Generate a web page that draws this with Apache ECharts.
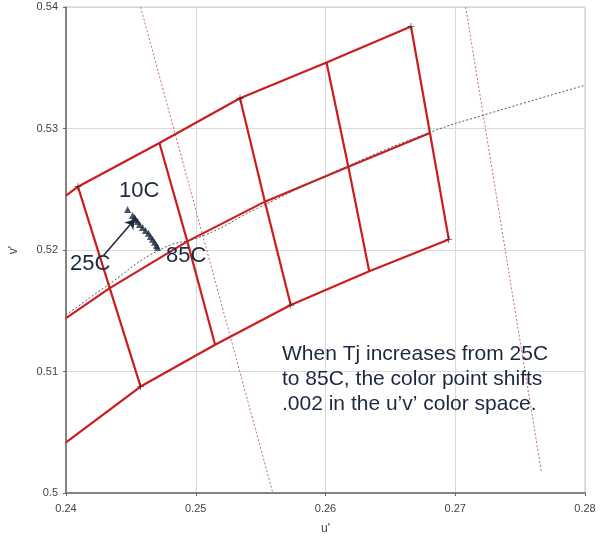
<!DOCTYPE html>
<html>
<head>
<meta charset="utf-8">
<script src="https://cdn.jsdelivr.net/npm/echarts@6/dist/echarts.min.js"></script>
<style>
  html, body { margin: 0; padding: 0; background: #fff; }
  #box { width: 600px; height: 540px; }
</style>
</head>
<body>
<div id="box"></div>
<script>
// red mesh: three rows of vertices (u', v'), first point sits on the left edge
const topRow = [[0.24, 0.52447], [0.24092, 0.52521], [0.24720, 0.52881], [0.25341, 0.53249], [0.26008, 0.53544], [0.26659, 0.53839]]
const midRow = [[0.24, 0.51440], [0.24337, 0.51686], [0.24935, 0.52071], [0.25533, 0.52398], [0.26176, 0.52685], [0.26805, 0.52963]]
const botRow = [[0.24, 0.50417], [0.24575, 0.50876], [0.25149, 0.51220], [0.25732, 0.51547], [0.26337, 0.51825], [0.26950, 0.52087]]
// corners marked with +
const crossPts = [[0.24092, 0.52521], [0.25341, 0.53249], [0.26659, 0.53839], [0.24575, 0.50876], [0.25732, 0.51547], [0.26950, 0.52087]]
// black dotted locus
const locus = [[0.24, 0.51465], [0.24322, 0.51711], [0.24728, 0.52005], [0.25065, 0.52120], [0.25471, 0.52341], [0.26176, 0.52693], [0.26812, 0.52971], [0.27218, 0.53110], [0.28, 0.53356]]
// thin red dotted lines
const iso1 = [[0.24575, 0.54], [0.25594, 0.5]]
const iso2 = [[0.27080, 0.54], [0.27663, 0.5018]]
// measured color points 10C .. 85C
const colorPts = [[0.24475, 0.52333], [0.24513, 0.52284], [0.24529, 0.52267], [0.24536, 0.52251], [0.24552, 0.52235], [0.24567, 0.52210], [0.24590, 0.52186], [0.24613, 0.52161], [0.24636, 0.52137], [0.24651, 0.52112], [0.24667, 0.52088], [0.24682, 0.52063], [0.24697, 0.52039], [0.24705, 0.52022]]
const arrow = [[0.24291, 0.51956], [0.24529, 0.52251]]
const xTicks = ['0.24', '0.25', '0.26', '0.27', '0.28']

const red = '#cc1c1c'
const navy = '#1c2740'

const series = []
series.push({ type: 'line', data: iso1, symbol: 'none', z: 1, lineStyle: { color: '#c26a78', width: 1, type: [2, 2] } })
series.push({ type: 'line', data: iso2, symbol: 'none', z: 1, lineStyle: { color: '#c26a78', width: 1, type: [2, 2] } })
;[topRow, midRow, botRow].forEach(function (row) {
  series.push({ type: 'line', data: row, symbol: 'none', z: 2, lineStyle: { color: red, width: 2.2 } })
})
for (let i = 1; i < topRow.length; i++) {
  series.push({ type: 'line', data: [topRow[i], midRow[i], botRow[i]], symbol: 'none', z: 2, lineStyle: { color: red, width: 2.2 } })
}
series.push({ type: 'line', data: locus, symbol: 'none', smooth: true, z: 3, lineStyle: { color: '#555', width: 1, type: [2, 2] } })
series.push({
  type: 'scatter', data: crossPts, z: 4,
  symbol: 'path://M4,0h1v4h4v1h-4v4h-1v-4h-4v-1h4z', symbolSize: 7,
  itemStyle: { color: '#222' }
})
series.push({ type: 'scatter', data: colorPts, z: 5, symbol: 'triangle', symbolSize: 7, itemStyle: { color: navy } })
series.push({
  type: 'lines', coordinateSystem: 'cartesian2d', z: 5,
  data: [{ coords: arrow }],
  symbol: ['none', 'arrow'], symbolSize: 9,
  lineStyle: { color: navy, width: 1.5, opacity: 1 }
})

const chart = echarts.init(document.getElementById('box'))
chart.setOption({
  animation: false,
  grid: { left: 63, right: 15, top: 7, bottom: 44, show: true, borderColor: '#c4c4c4', borderWidth: 1 },
  xAxis: {
    type: 'value', min: 0.24, max: 0.28, interval: 0.01,
    name: "u'", nameLocation: 'middle', nameGap: 30,
    nameTextStyle: { color: '#444', fontSize: 12, fontFamily: 'Liberation Sans' },
    axisLine: { show: true, lineStyle: { color: '#666', width: 1.5 } },
    axisTick: { show: true, length: 3, lineStyle: { color: '#666' } },
    axisLabel: { color: '#444', fontSize: 11, fontFamily: 'Liberation Sans', margin: 10, formatter: function (v, i) { return xTicks[i] } },
    splitLine: { lineStyle: { color: '#d9d9d9' } }
  },
  yAxis: {
    type: 'value', min: 0.5, max: 0.54, interval: 0.01,
    name: "v'", nameLocation: 'middle', nameGap: 46,
    nameTextStyle: { color: '#444', fontSize: 12, fontFamily: 'Liberation Sans' },
    axisLine: { show: true, lineStyle: { color: '#666', width: 1.5 } },
    axisTick: { show: true, length: 3, lineStyle: { color: '#666' } },
    axisLabel: { color: '#444', fontSize: 11, fontFamily: 'Liberation Sans', margin: 8 },
    splitLine: { lineStyle: { color: '#d9d9d9' } }
  },
  series: series,
  graphic: [
    { type: 'text', left: 119, top: 180, z: 10, style: { text: '10C', fill: navy, fontSize: 22, fontFamily: 'Liberation Sans' } },
    { type: 'text', left: 70, top: 253, z: 10, style: { text: '25C', fill: navy, fontSize: 22, fontFamily: 'Liberation Sans' } },
    { type: 'text', left: 166, top: 245, z: 10, style: { text: '85C', fill: navy, fontSize: 22, fontFamily: 'Liberation Sans' } },
    {
      type: 'text', left: 282, top: 342, z: 10,
      style: {
        text: 'When Tj increases from 25C\nto 85C, the color point shifts\n.002 in the u\u2019v\u2019 color space.',
        fill: navy, fontSize: 21, lineHeight: 25, fontFamily: 'Liberation Sans'
      }
    }
  ]
})
</script>
</body>
</html>
